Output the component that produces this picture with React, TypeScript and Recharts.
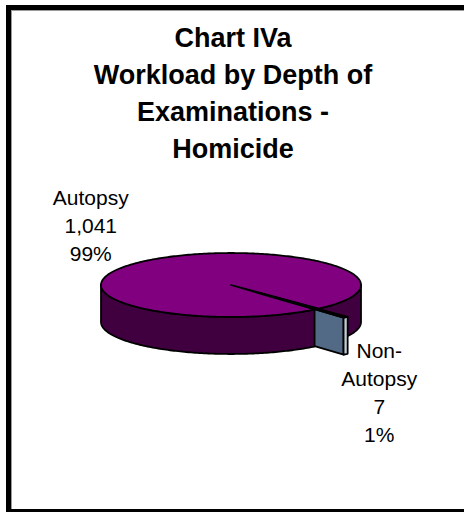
import { PieChart, Pie } from "recharts";

// slice data
const categories = ["Autopsy", "Non-Autopsy"];
const counts = [1041, 7];
const nameLines = [["Autopsy"], ["Non-", "Autopsy"]];
const titleLines = ["Chart IVa", "Workload by Depth of", "Examinations -", "Homicide"];

// colours per slice
const topColors = ["#800080", "#6f88a6"];
const sideColors = ["#400040", "#526a86"];
const rimColors = ["#400040", "#c3ccd6"];
const explode = [0, 44];

const data = categories.map((name, i) => ({ name, value: counts[i] }));

const START = 310;
const RAD = Math.PI / 180;
const SQUASH = 0.246; // ry / rx of the tilted disc
const DEPTH = 37;
const LINE = 28;
const FONT = "'Liberation Sans', Arial, sans-serif";

const norm = (a: number) => {
  let x = a % 360;
  if (x > 180) x -= 360;
  if (x <= -180) x += 360;
  return x;
};

// mid angle of the pulled-out slice, used to sort walls in front of / behind it
const total = counts.reduce((a, b) => a + b, 0);
const popIdx = explode.findIndex((e) => e > 0);
const popBefore = counts.slice(0, popIdx).reduce((a, b) => a + b, 0);
const popMid = norm(START - (360 * (popBefore + counts[popIdx] / 2)) / total);

function sliceIndex(p: any) {
  const n = p.name ?? p.payload?.name;
  return Math.max(0, categories.indexOf(n));
}

// shared geometry for one slice of the 3d disc
function geom(p: any) {
  const i = sliceIndex(p);
  const a1 = Math.min(p.startAngle, p.endAngle);
  const a2 = Math.max(p.startAngle, p.endAngle);
  const mid = (a1 + a2) / 2;
  const e = explode[i];
  const ox = p.cx + e * Math.cos(mid * RAD);
  const oy = p.cy - e * SQUASH * Math.sin(mid * RAD);
  const r = p.outerRadius;
  const P = (rr: number, a: number, dy = 0) => [
    ox + rr * Math.cos(a * RAD),
    oy - rr * SQUASH * Math.sin(a * RAD) + dy,
  ];
  const angles = [a1];
  for (let a = Math.ceil(a1); a < a2; a++) if (a > a1) angles.push(a);
  angles.push(a2);
  return { i, a1, a2, ox, oy, r, P, angles };
}

const toPath = (pts: number[][]) =>
  "M" + pts.map((q) => q[0].toFixed(2) + "," + q[1].toFixed(2)).join("L") + "Z";

const edge = { stroke: "#000", strokeWidth: 1.8, strokeLinejoin: "round" as const };

function faces(p: any) {
  const { i, a1, a2, ox, oy, r, P } = geom(p);
  const list: number[] = [];
  if (Math.cos(a1 * RAD) > 0) list.push(a1);
  if (Math.cos(a2 * RAD) < 0) list.push(a2);
  return list.map((a) => (
    <path
      key={"f" + a}
      d={toPath([[ox, oy], P(r, a), P(r, a, DEPTH), [ox, oy + DEPTH]])}
      fill={sideColors[i]}
      {...edge}
    />
  ));
}

// front part of the rim, split into runs; which = all / back / front
function walls(p: any, which: string) {
  const { i, r, P, angles } = geom(p);
  const runs: number[][] = [];
  let cur: number[] = [];
  for (let k = 0; k < angles.length - 1; k++) {
    const m = (angles[k] + angles[k + 1]) / 2;
    if (Math.sin(m * RAD) < 0) {
      if (!cur.length) cur.push(angles[k]);
      cur.push(angles[k + 1]);
    } else if (cur.length) {
      runs.push(cur);
      cur = [];
    }
  }
  if (cur.length) runs.push(cur);
  return runs
    .filter((run) => {
      if (which === "all") return true;
      const m = norm((run[0] + run[run.length - 1]) / 2);
      return which === "back" ? m > popMid : m <= popMid;
    })
    .map((run, k) => {
      const top = run.map((a) => P(r, a));
      const bot = run.map((a) => P(r, a, DEPTH)).reverse();
      return <path key={"w" + which + k} d={toPath([...top, ...bot])} fill={rimColors[i]} {...edge} />;
    });
}

const BackShape = (p: any) =>
  explode[sliceIndex(p)] ? <g /> : <g>{faces(p)}{walls(p, "back")}</g>;
const PoppedShape = (p: any) =>
  explode[sliceIndex(p)] ? <g>{faces(p)}{walls(p, "all")}</g> : <g />;
const FrontShape = (p: any) => (explode[sliceIndex(p)] ? <g /> : <g>{walls(p, "front")}</g>);

const TopShape = (p: any) => {
  const { i, ox, oy, r, P, angles } = geom(p);
  const pts = [[ox, oy], ...angles.map((a) => P(r, a))];
  return <path d={toPath(pts)} fill={topColors[i]} {...edge} />;
};

const renderLabel = (p: any) => {
  const i = sliceIndex(p);
  const s = Math.sin(p.midAngle * RAD);
  const c = Math.cos(p.midAngle * RAD);
  const x = p.cx + 4 + 219 * c;
  const yc = p.cy - 78.5 * s + (s < 0 ? DEPTH + 12 : 0);
  const lines = [
    ...nameLines[i],
    counts[i].toLocaleString("en-US"),
    Math.round(p.percent * 100) + "%",
  ];
  const y0 = yc - ((lines.length - 1) * LINE) / 2 + 7;
  return (
    <text x={x} y={y0} textAnchor="middle" fontFamily={FONT} fontSize={21} fill="#000">
      {lines.map((t, k) => (
        <tspan key={k} x={x} dy={k === 0 ? 0 : LINE}>
          {t}
        </tspan>
      ))}
    </text>
  );
};

const pieProps = {
  data,
  dataKey: "value",
  nameKey: "name",
  cx: 231,
  cy: 285,
  outerRadius: 130,
  startAngle: START,
  endAngle: START - 360,
  stroke: "none",
  isAnimationActive: false,
};

export default function App() {
  return (
    <div
      style={{
        position: "absolute",
        left: 0,
        top: 0,
        width: 464,
        height: 512,
        overflow: "hidden",
        background: "#fff",
      }}
    >
      <div
        style={{
          position: "absolute",
          left: 6,
          top: 5,
          width: 480,
          height: 509,
          boxSizing: "border-box",
          border: "5px solid #000",
          boxShadow: "inset 1px 1px 0 #9a9a9a",
        }}
      />
      <div
        style={{
          position: "absolute",
          left: 0,
          top: 20,
          width: 466,
          textAlign: "center",
          fontFamily: FONT,
          fontWeight: "bold",
          fontSize: 27,
          lineHeight: "37px",
          color: "#000",
        }}
      >
        {titleLines.map((t) => (
          <div key={t}>{t}</div>
        ))}
      </div>
      <div style={{ position: "absolute", left: 0, top: 0 }}>
        <PieChart width={464} height={512} margin={{ top: 0, right: 0, bottom: 0, left: 0 }}>
          <Pie {...pieProps} shape={BackShape} />
          <Pie {...pieProps} shape={PoppedShape} />
          <Pie {...pieProps} shape={FrontShape} />
          <Pie {...pieProps} shape={TopShape} label={renderLabel} labelLine={false} />
        </PieChart>
      </div>
    </div>
  );
}
